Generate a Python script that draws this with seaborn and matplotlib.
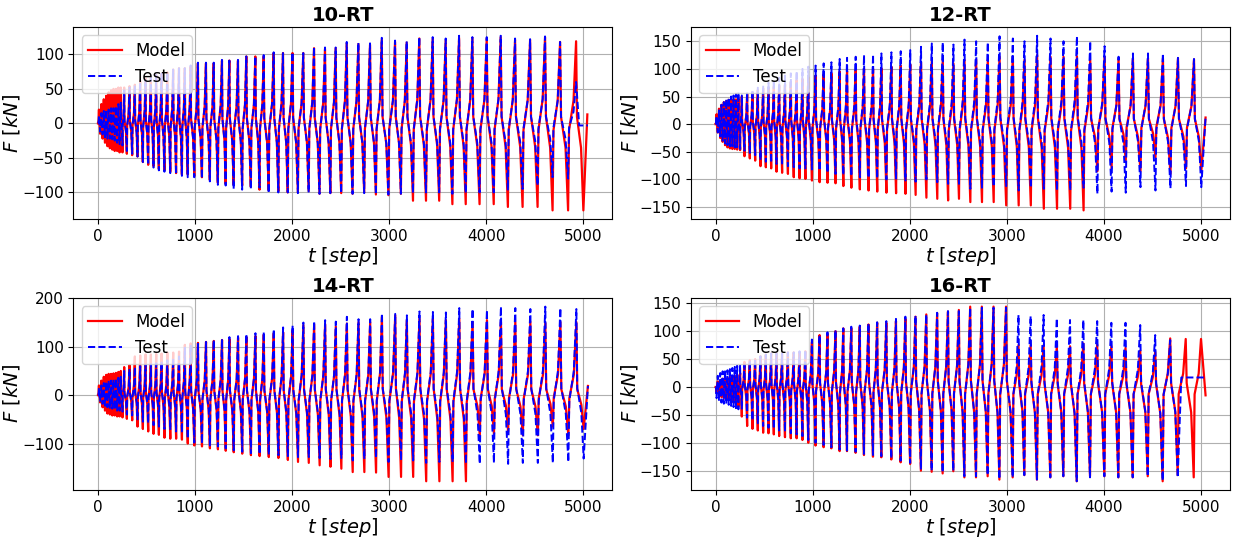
import numpy as np
import pandas as pd
import matplotlib
matplotlib.use("Agg")
import matplotlib.pyplot as plt
from matplotlib.ticker import MultipleLocator
import seaborn as sns

nan = np.nan

# time of the first extreme of every loading cycle (steps), shared by all specimens
cycle_t = [10, 35, 60, 85, 110, 135, 160, 185, 210, 235,
           270, 325, 380, 435, 490, 545, 600, 655, 715, 775, 835, 895, 955,
           1030, 1113, 1193, 1278, 1354, 1443, 1529, 1622, 1708, 1811, 1907, 2005,
           2116, 2227, 2340, 2450, 2564, 2684, 2804, 2925, 3062, 3182, 3312, 3450,
           3584, 3722, 3859, 4007, 4151, 4299, 4454, 4608, 4763, 4928]

# waveform shape: fast return after an extreme, slow drift, spike
knee_frac, knee_level = 0.12, 0.08
shoulder_frac, shoulder_level = 0.32, 0.28

# ---- 10-RT (peak first, then valley) ----
m10_pk = [20, 28, 35, 40, 45, 48, 50, 50, 52, 52,
          52, 54, 56, 62, 65, 66, 70, 72, 74, 78, 80, 80, 82,
          87, 87, 87, 91, 91, 91, 97, 97, 97, 102, 102, 102,
          102, 109, 108, 109, 116, 115, 114, 121, 118, 117, 123, 123, 120, 124, 124, 123, 125, 121, 121, 125, 118, 119]
m10_vl = [-15, -22, -28, -33, -36, -38, -40, -40, -42, -42,
          -44, -46, -48, -56, -60, -62, -66, -68, -70, -72, -74, -74, -76,
          -78, -82, -86, -88, -89, -90, -92, -96, -97, -98, -100, -100,
          -98, -102, -101, -101, -102, -100, -103, -104, -102, -112, -112, -112, -117, -117, -117, -117, -121, -121, -121, -126, -126, -126]
t10_pk = [12, 15, 18, 20, 20, 22, 22, 25, 28, 30,
          48, 52, 55, 60, 63, 66, 70, 72, 74, 78, 80, 80, 84,
          88, 88, 88, 92, 91, 92, 97, 97, 99, 103, 102, 103,
          102, 111, 110, 110, 118, 117, 116, 124, 120, 119, 125, 125, 123, 127, 125, 125, 127, 123, 122, 126, 118, 60]
t10_vl = [-12, -16, -20, -22, -22, -23, -25, -28, -30, -32,
          -40, -44, -48, -56, -60, -64, -68, -70, -72, -74, -76, -78, -78,
          -80, -84, -89, -90, -95, -96, -95, -93, -101, -100, -100, -101,
          -100, -102, -101, -101, -102, -101, -103, -103, -102, -101, -100, -100, -102, -101, -100, -100, -97, -95, -90, -78, -80, nan]

# ---- 12-RT ----
m12_pk = [18, 28, 35, 40, 42, 44, 44, 45, 45, 46,
          50, 55, 58, 62, 65, 66, 68, 70, 72, 76, 80, 82, 85,
          88, 90, 92, 95, 96, 98, 100, 100, 101, 104, 106, 108,
          112, 114, 116, 110, 116, 117, 116, 122, 122, 116, 125, 122, 122, 123, 116, 122, 119, 119, 119, 119, 119, 117]
m12_vl = [-15, -25, -32, -38, -42, -44, -45, -45, -46, -47,
          -58, -62, -66, -76, -78, -80, -86, -88, -90, -96, -98, -99, -102,
          -105, -106, -107, -112, -115, -118, -120, -122, -124, -125, -126, -128,
          -133, -135, -138, -135, -141, -141, -141, -147, -147, -147, -153, -153, -153, -156, -85, -80, -65, -85, -60, -90, -80, -85]
t12_pk = [15, 25, 35, 40, 45, 48, 50, 52, 55, 58,
          52, 58, 62, 66, 70, 75, 80, 84, 88, 92, 96, 100, 104,
          106, 110, 112, 118, 120, 122, 125, 126, 128, 130, 132, 134,
          140, 146, 148, 144, 153, 150, 148, 159, 155, 150, 160, 155, 150, 159, 150, 141, 122, 128, 128, 128, 120, 118]
t12_vl = [-15, -22, -30, -35, -38, -40, -40, -42, -42, -45,
          -48, -52, -56, -65, -68, -70, -72, -74, -76, -78, -80, -80, -82,
          -84, -88, -90, -92, -94, -96, -97, -98, -100, -100, -102, -104,
          -100, -105, -108, -108, -117, -115, -113, -112, -120, -115, -117, -120, -120, -115, -126, -122, -124, -114, -120, -116, -112, -114]

# ---- 14-RT ----
m14_pk = [20, 30, 38, 42, 44, 44, 45, 46, 48, 50,
          58, 62, 80, 82, 84, 84, 85, 86, 88, 88, 90, 104, 107,
          108, 110, 112, 114, 116, 119, 120, 122, 125, 128, 130, 134,
          145, 146, 147, 142, 148, 151, 151, 162, 165, 155, 158, 158, 155, 158, 151, 155, 151, 151, 151, 149, 151, 151]
m14_vl = [-15, -25, -32, -38, -40, -42, -42, -44, -44, -46,
          -49, -52, -65, -70, -75, -80, -82, -88, -90, -90, -92, -100, -104,
          -106, -110, -112, -115, -118, -121, -124, -126, -128, -130, -134, -138,
          -140, -145, -148, -152, -159, -159, -160, -169, -169, -169, -178, -178, -178, -178, -83, -80, -75, -83, -83, -65, -83, -70]
t14_pk = [15, 20, 25, 28, 30, 30, 32, 34, 36, 38,
          50, 54, 58, 60, 62, 64, 66, 70, 72, 76, 80, 98, 104,
          106, 110, 114, 116, 120, 122, 126, 128, 131, 136, 140, 144,
          150, 153, 155, 152, 162, 157, 157, 169, 168, 165, 173, 172, 171, 180, 178, 176, 183, 180, 178, 183, 180, 178]
t14_vl = [-12, -18, -22, -25, -28, -28, -30, -32, -32, -34,
          -40, -42, -50, -55, -58, -62, -65, -70, -72, -75, -78, -90, -98,
          -100, -104, -106, -110, -114, -117, -120, -122, -123, -124, -126, -128,
          -128, -130, -132, -130, -135, -132, -130, -138, -135, -135, -140, -138, -138, -142, -142, -140, -142, -140, -140, -140, -138, -131]

# ---- 16-RT (valley first, then peak) ----
m16_vl = [-10, -15, -18, -20, -22, -24, -25, -28, -30, -35,
          -53, -70, -75, -78, -82, -83, -85, -88, -90, -92, -92, -95, -100,
          -105, -108, -110, -115, -115, -118, -122, -125, -126, -130, -135, -138,
          -150, -152, -155, -151, -162, -162, -160, -166, -162, -158, -166, -162, -160, -169, -160, -160, -162, -162, -160, -169, -158, -162]
m16_pk = [10, 12, 15, 15, 16, 18, 18, 20, 22, 25,
          45, 48, 50, 55, 58, 60, 60, 60, 62, 62, 62, 64, 80,
          93, 95, 100, 105, 105, 108, 112, 115, 115, 118, 122, 126,
          130, 132, 135, 138, 144, 144, 144, 144, 75, 75, 75, 73, 73, 78, 76, 73, 70, 65, 63, 87, 86, 86]
t16_vl = [-20, -25, -28, -30, -30, -32, -34, -36, -38, -40,
          -39, -55, -60, -65, -70, -73, -75, -78, -80, -83, -85, -88, -95,
          -100, -104, -108, -112, -114, -116, -120, -122, -124, -128, -132, -136,
          -148, -150, -153, -150, -160, -160, -158, -165, -162, -158, -166, -162, -160, -169, -162, -160, -162, -162, -160, -168, -162, nan]
t16_pk = [20, 25, 28, 30, 30, 32, 34, 36, 38, 40,
          39, 48, 50, 55, 58, 60, 60, 60, 62, 62, 64, 66, 85,
          93, 98, 102, 105, 108, 110, 114, 116, 118, 122, 126, 128,
          130, 133, 136, 136, 142, 142, 142, 142, 129, 127, 129, 123, 120, 120, 118, 115, 115, 111, 93, 84, nan, nan]

# end of each record: (times, values)
m10_tail = ([5044], [13]);  t10_tail = ([4960, 5050], [-3, -3])
m12_tail = ([5047], [12]);  t12_tail = ([5047], [12])
m14_tail = ([5047], [19]);  t14_tail = ([5047], [19])
m16_tail = ([5050], [-15]); t16_tail = ([4800, 5050], [17, 17])


def extremes(first, second):
    pts = []
    for i, t in enumerate(cycle_t):
        t_next = cycle_t[i + 1] if i + 1 < len(cycle_t) else t + 150
        pts.append((t, first[i]))
        pts.append(((t + t_next) / 2, second[i]))
    return [(t, v) for t, v in pts if not np.isnan(v)]


def trace(first, second, tail):
    ts, vs = [0.0], [0.0]
    t1, v1 = 0.0, 0.0
    for t2, v2 in extremes(first, second):
        h = t2 - t1
        ts += [t1 + knee_frac * h, t2 - shoulder_frac * h, t2]
        vs += [knee_level * v1, shoulder_level * v2, v2]
        t1, v1 = t2, v2
    ts += list(tail[0])
    vs += list(tail[1])
    return pd.DataFrame({"t": ts, "F": vs})


panels = [
    ("10-RT", (m10_pk, m10_vl, m10_tail), (t10_pk, t10_vl, t10_tail), 50),
    ("12-RT", (m12_pk, m12_vl, m12_tail), (t12_pk, t12_vl, t12_tail), 50),
    ("14-RT", (m14_pk, m14_vl, m14_tail), (t14_pk, t14_vl, t14_tail), 100),
    ("16-RT", (m16_vl, m16_pk, m16_tail), (t16_vl, t16_pk, t16_tail), 50),
]

fig, axes = plt.subplots(2, 2, figsize=(12.35, 5.4), dpi=100)
fig.subplots_adjust(left=0.0595, right=0.996, top=0.95, bottom=0.0926,
                    wspace=0.146, hspace=0.41)
for ax, (title, model, test, ystep) in zip(axes.flat, panels):
    dm = trace(*model)
    dt = trace(*test)
    sns.lineplot(data=dm, x="t", y="F", ax=ax, color="red", linewidth=1.6,
                 label="Model", sort=False, estimator=None)
    sns.lineplot(data=dt, x="t", y="F", ax=ax, color="blue", linewidth=1.4,
                 linestyle="--", label="Test", sort=False, estimator=None)
    ax.set_title(title, fontsize=14, fontweight="bold", pad=4)
    ax.set_xlabel("$t\\ [step]$", fontsize=14, labelpad=1)
    ax.set_ylabel("$F\\ [kN]$", fontsize=14, labelpad=0)
    ax.yaxis.set_major_locator(MultipleLocator(ystep))
    ax.tick_params(labelsize=11)
    ax.grid(True)
    ax.legend(loc="upper left", fontsize=12)

plt.savefig("out.png", dpi=100)
